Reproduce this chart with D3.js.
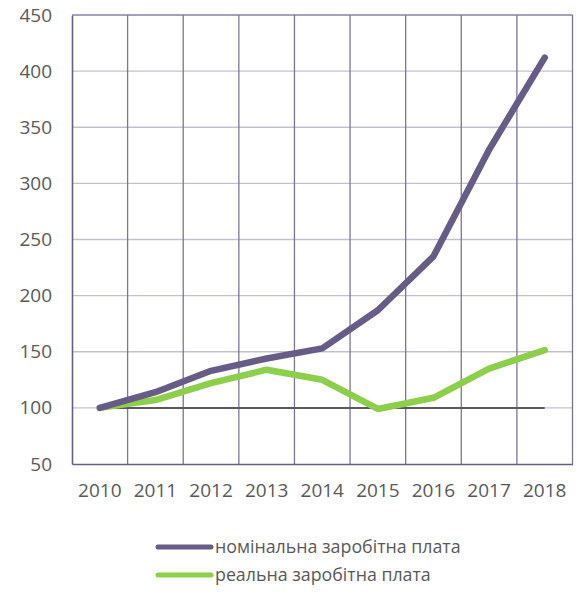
<!DOCTYPE html>
<html><head><meta charset="utf-8">
<script src="https://cdn.jsdelivr.net/npm/d3@7"></script>
<style>body{margin:0;background:#fff}svg{display:block}</style>
</head><body>
<script>
const years = ["2010","2011","2012","2013","2014","2015","2016","2017","2018"];
const nominal = [100,114,133,144,153,187,235,330,412];
const real = [100,107,122,134,125,99,109,135,151.5];
const baseline = [100,100,100,100,100,100,100,100,100];
const yTicks = [50,100,150,200,250,300,350,400,450];
const seriesNames = ["номінальна заробітна плата","реальна заробітна плата"];
const colors = ["#675c86","#8ccf4a"];

(function(){
const W=577,H=594;
const svg=d3.select("body").append("svg").attr("width",W).attr("height",H);
const pL=72,pR=572.5,pT=15,pB=464;
const x=d3.scaleBand().domain(years).range([pL,pR]).padding(0);
const y=d3.scaleLinear().domain([50,450]).range([pB,pT]);
const font="'Open Sans', sans-serif";

svg.append("g").selectAll("line").data(yTicks.filter(d=>d>50)).join("line")
 .attr("x1",pL).attr("x2",pR).attr("y1",d=>y(d)).attr("y2",d=>y(d))
 .attr("stroke",d=>d===450?"#8a82a8":"#c3bfd3").attr("stroke-width",1.3);
const vx=years.map(d=>x(d)).slice(1).concat([pR]);
svg.append("g").selectAll("line").data(vx).join("line")
 .attr("x1",d=>d).attr("x2",d=>d).attr("y1",pT).attr("y2",pB)
 .attr("stroke","#7d7499").attr("stroke-width",1.3);
const yAxis=d3.axisLeft(y).tickValues(yTicks).tickSize(0).tickPadding(20);
const gy=svg.append("g").attr("transform",`translate(${pL},0)`).call(yAxis);
gy.select(".domain").attr("stroke","#665d8c").attr("stroke-width",1.6);
gy.selectAll("text").attr("font-family",font).attr("font-size",19).attr("fill","#595959");
const xAxis=d3.axisBottom(x).tickSize(0).tickPadding(20);
const gx=svg.append("g").attr("transform",`translate(0,${pB})`).call(xAxis);
gx.select(".domain").attr("stroke","#665d8c").attr("stroke-width",1.6);
gx.selectAll("text").attr("font-family",font).attr("font-size",19).attr("fill","#595959");

const line=d3.line().x((d,i)=>x(years[i])+x.bandwidth()/2).y(d=>y(d));
svg.append("path").datum(baseline).attr("d",line).attr("fill","none").attr("stroke","#595959").attr("stroke-width",2);
svg.append("path").datum(real).attr("d",line).attr("fill","none").attr("stroke",colors[1]).attr("stroke-width",6.5).attr("stroke-linejoin","round").attr("stroke-linecap","round");
svg.append("path").datum(nominal).attr("d",line).attr("fill","none").attr("stroke",colors[0]).attr("stroke-width",6.5).attr("stroke-linejoin","round").attr("stroke-linecap","round");

const lg=svg.append("g");
seriesNames.forEach((n,i)=>{
  const ly=547+i*28;
  lg.append("line").attr("x1",158).attr("x2",211).attr("y1",ly).attr("y2",ly)
    .attr("stroke",colors[i]).attr("stroke-width",5).attr("stroke-linecap","round");
  lg.append("text").attr("x",215).attr("y",ly).attr("dy","0.35em").text(n)
    .attr("font-family",font).attr("font-size",17.8).attr("fill","#595959");
});
})();
</script>
</body></html>
